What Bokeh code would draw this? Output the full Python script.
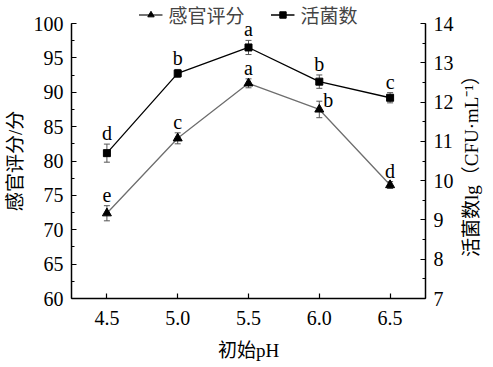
import math
from bokeh.plotting import figure
from bokeh.layouts import column, row
from bokeh.models import (Range1d, LinearAxis, Whisker, ColumnDataSource, Legend, LegendItem,
                          SingleIntervalTicker, FixedTicker, PrintfTickFormatter, TeeHead, Label)
from bokeh.embed import file_html
from bokeh.resources import INLINE
from bokeh.core.properties import value

# ---- data ----
ph = [4.5, 5.0, 5.5, 6.0, 6.5]
sensory = [72.4, 83.3, 91.3, 87.5, 76.5]
sensory_err = [1.1, 0.8, 0.65, 1.2, 0.5]
sensory_letters = ["e", "c", "a", "b", "d"]
counts = [10.70, 12.73, 13.39, 12.52, 12.11]
counts_err = [0.23, 0.10, 0.18, 0.17, 0.13]
counts_letters = ["d", "b", "a", "b", "c"]
x_ticks = [4.5, 5.0, 5.5, 6.0, 6.5]
series_names = ["感官评分", "活菌数"]
x_title = "初始pH"
left_title = "感官评分/分"
right_title = "活菌数lg（CFU·mL⁻¹）"

# ---- styles ----
SERIF = "Liberation Serif"
MIXED = "Liberation Serif, Noto Sans CJK SC"
sens_letter_dx = [0, 0, 0, 9, 0]
sens_letter_dy = [-11, -11, -11, -1, -11]
GREY = "#6e6e6e"
ERR = "#555555"

src_s = ColumnDataSource(dict(x=ph, y=sensory,
                              lo=[v - e for v, e in zip(sensory, sensory_err)],
                              hi=[v + e for v, e in zip(sensory, sensory_err)],
                              t=sensory_letters, dx=sens_letter_dx, dy=sens_letter_dy))
src_c = ColumnDataSource(dict(x=ph, y=counts,
                              lo=[v - e for v, e in zip(counts, counts_err)],
                              hi=[v + e for v, e in zip(counts, counts_err)],
                              t=counts_letters))

# ---------- main chart ----------
p = figure(frame_width=354, frame_height=275,
           x_range=Range1d(4.25, 6.75), y_range=Range1d(60, 100),
           output_backend="svg", toolbar_location=None,
           min_border_left=71, min_border_right=30, min_border_top=12, min_border_bottom=68)
p.extra_y_ranges = {"cnt": Range1d(7, 14)}
p.grid.visible = False
p.outline_line_color = None
p.border_fill_color = None
p.background_fill_color = None

right_axis = LinearAxis(y_range_name="cnt")
p.add_layout(right_axis, "right")

for ax in [p.xaxis[0], p.yaxis[0], right_axis]:
    ax.axis_line_color = "black"
    ax.axis_line_width = 1.5
    ax.major_tick_line_color = "black"
    ax.major_tick_line_width = 1.2
    ax.minor_tick_line_color = "black"
    ax.minor_tick_line_width = 1.2
    ax.major_tick_in = 5
    ax.major_tick_out = 0
    ax.minor_tick_in = 3
    ax.minor_tick_out = 0
    ax.major_label_text_font = SERIF
    ax.major_label_text_font_size = "20px"
    ax.major_label_text_color = "black"
    ax.axis_label_text_font = MIXED
    ax.axis_label_text_font_size = "19px"
    ax.axis_label_text_font_style = "normal"
    ax.axis_label_text_color = "black"
    ax.major_label_standoff = 8
    ax.axis_label_standoff = 5

p.xaxis[0].ticker = FixedTicker(ticks=x_ticks)
p.xaxis[0].formatter = PrintfTickFormatter(format="%.1f")
p.xaxis[0].minor_tick_line_color = None
p.xaxis[0].axis_label = x_title
p.xaxis[0].major_label_standoff = 12
p.xaxis[0].axis_label_standoff = 12

p.yaxis[0].ticker = SingleIntervalTicker(interval=5, num_minor_ticks=2)
p.yaxis[0].axis_label = left_title
right_axis.ticker = SingleIntervalTicker(interval=1, num_minor_ticks=2)

p.line("x", "y", source=src_s, line_color=GREY, line_width=1.3)
p.line("x", "y", source=src_c, line_color="black", line_width=1.3, y_range_name="cnt")

for src, rng in [(src_s, "default"), (src_c, "cnt")]:
    w = Whisker(base="x", upper="hi", lower="lo", source=src, line_color=ERR, line_width=1,
                upper_head=TeeHead(size=6, line_color=ERR, line_width=1),
                lower_head=TeeHead(size=6, line_color=ERR, line_width=1),
                y_range_name=rng)
    p.add_layout(w)

p.scatter("x", "y", source=src_s, marker="triangle", size=9,
          fill_color="black", line_color="black")
p.scatter("x", "y", source=src_c, marker="square", size=7,
          fill_color="black", line_color="black", y_range_name="cnt")

p.text("x", "hi", text="t", source=src_s, x_offset="dx", y_offset="dy",
       text_align="center", text_baseline="alphabetic",
       text_font=value(SERIF), text_font_size="20px", text_color="black")
p.text("x", "hi", text="t", source=src_c, y_offset=-11,
       text_align="center", text_baseline="alphabetic",
       text_font=value(SERIF), text_font_size="20px", text_color="black", y_range_name="cnt")

# ---------- right-hand title strip (reads bottom to top) ----------
rs = figure(frame_width=38, frame_height=275, output_backend="svg", toolbar_location=None,
            x_axis_type=None, y_axis_type=None, x_range=Range1d(0, 1), y_range=Range1d(0, 1),
            min_border_left=0, min_border_right=0, min_border_top=12, min_border_bottom=68)
rs.grid.visible = False
rs.outline_line_color = None
rs.border_fill_color = None
rs.background_fill_color = None
rs.add_layout(Label(x=15, y=137, x_units="screen", y_units="screen", text=right_title,
                    angle=math.pi / 2, text_align="center", text_baseline="middle",
                    text_font=MIXED, text_font_size="19px", text_color="black"))

# ---------- legend strip (same series, drawn out of view; only the legend shows) ----------
lg = figure(frame_width=354, frame_height=28, x_range=p.x_range, y_range=Range1d(-2, -1),
            output_backend="svg", toolbar_location=None, x_axis_type=None, y_axis_type=None,
            min_border_left=71, min_border_right=68, min_border_top=0, min_border_bottom=0)
lg.grid.visible = False
lg.outline_line_color = None
gl_s = lg.line("x", "y", source=src_s, line_color="#444444", line_width=1.3)
gm_s = lg.scatter("x", "y", source=src_s, marker="triangle", size=9,
                  fill_color="black", line_color="black")
gl_c = lg.line("x", "y", source=src_c, line_color="black", line_width=1.3)
gm_c = lg.scatter("x", "y", source=src_c, marker="square", size=7,
                  fill_color="black", line_color="black")

legend = Legend(items=[LegendItem(label=series_names[0], renderers=[gl_s, gm_s]),
                       LegendItem(label=series_names[1], renderers=[gl_c, gm_c])],
                orientation="horizontal", location="center",
                border_line_color=None, background_fill_alpha=0,
                padding=0, margin=0, spacing=26, glyph_width=24, glyph_height=16,
                label_height=16, label_standoff=6,
                label_text_font="Noto Sans CJK SC", label_text_font_size="19px")
lg.add_layout(legend)

layout = column(lg, row(p, rs, spacing=0, margin=(-17, 0, 0, 0)), spacing=0)
open("out.html", "w").write(file_html(layout, INLINE))
